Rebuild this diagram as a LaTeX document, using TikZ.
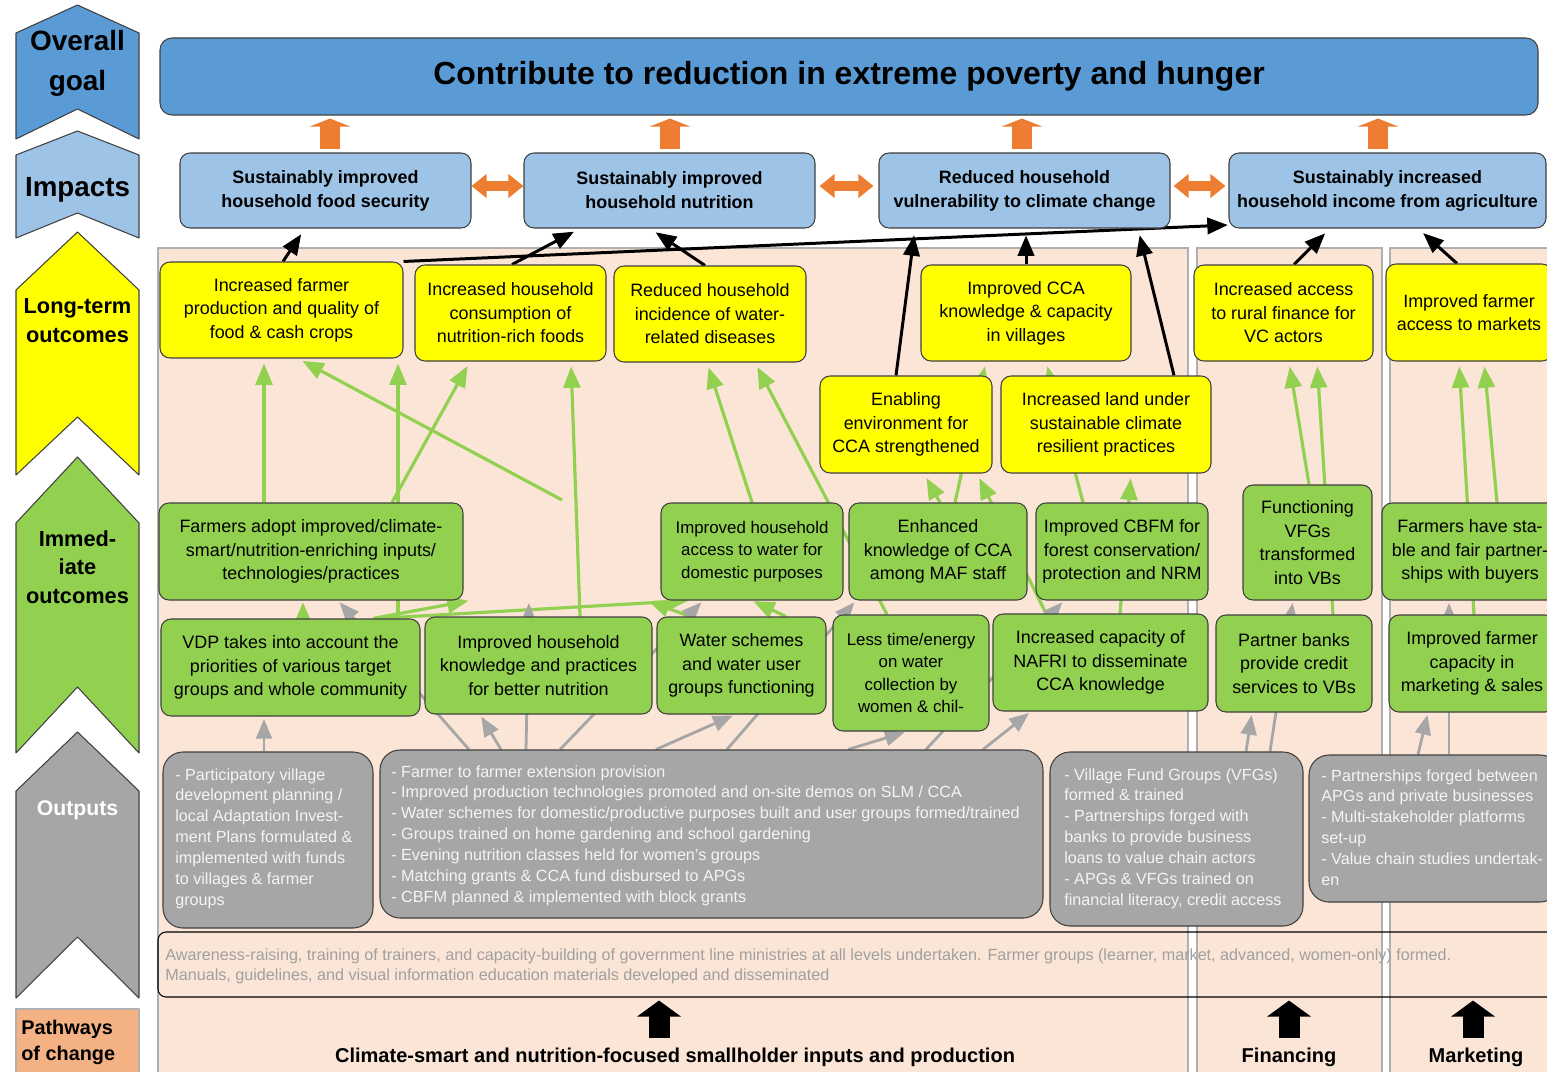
\documentclass[tikz,border=0pt]{standalone}
\usepackage{fontspec}
\setmainfont{Liberation Sans}
\usetikzlibrary{arrows,arrows.meta}

\definecolor{goalblue}{HTML}{5B9BD5}
\definecolor{impblue}{HTML}{9DC3E6}
\definecolor{ltyellow}{HTML}{FFFF00}
\definecolor{imgreen}{HTML}{92D050}
\definecolor{outgray}{HTML}{A6A6A6}
\definecolor{outtext}{HTML}{F4F4F4}
\definecolor{awaretext}{HTML}{A0A0A0}
\definecolor{peach}{HTML}{FBE5D6}
\definecolor{regionedge}{HTML}{B0B0B0}
\definecolor{arrorange}{HTML}{ED7D31}
\definecolor{pathorange}{HTML}{F4B183}
\definecolor{boxedge}{HTML}{404040}

\pgfdeclarelayer{backdrop}
\pgfdeclarelayer{links}
\pgfsetlayers{backdrop,links,main}

\tikzset{
  wh/.style 2 args={minimum width=#1*0.02cm, minimum height=#2*0.02cm},
  box/.style={draw=boxedge, line width=0.6pt, inner sep=0pt, align=center},
  goalbox/.style={box, fill=goalblue, rounded corners=0.24cm,
    font=\fontsize{18.2}{22}\selectfont\bfseries},
  impbox/.style={box, fill=impblue, rounded corners=0.2cm,
    font=\fontsize{10.2}{13.6}\selectfont\bfseries},
  ltbox/.style={box, fill=ltyellow, rounded corners=0.2cm,
    font=\fontsize{10.2}{13.4}\selectfont},
  imbox/.style={box, fill=imgreen, rounded corners=0.2cm,
    font=\fontsize{10.2}{13.4}\selectfont},
  smallim/.style={imbox, font=\fontsize{9.6}{12.6}\selectfont},
  outbox/.style={box, fill=outgray, rounded corners=0.4cm},
  outtxt/.style={anchor=north west, inner sep=0pt, align=left,
    text=outtext, font=\fontsize{9.2}{11.9}\selectfont},
  awarebox/.style={draw=black, line width=0.6pt, rounded corners=0.16cm},
  awaretxt/.style={anchor=north west, inner sep=0pt, align=left,
    text=awaretext, font=\fontsize{9.2}{11.9}\selectfont},
  region/.style={fill=peach, draw=regionedge, line width=0.6pt},
  chev/.style={draw=boxedge, line width=0.6pt},
  lvl/.style={align=center, inner sep=0pt},
  botlbl/.style={inner sep=0pt, font=\fontsize{11.4}{13}\selectfont\bfseries},
  toimp/.style={->, line width=1.7pt, black, shorten >=4pt},
  tolt/.style={->, line width=1.8pt, imgreen, shorten >=3pt},
  fromout/.style={->, line width=1.6pt, outgray, shorten >=1.5pt},
  uparr/.style={arrorange, line cap=butt, line width=0.4cm,
    -{Triangle[width=0.8cm,length=0.16cm]},
    shorten <=0.06cm, shorten >=0.06cm},
  sidearr/.style={arrorange, line cap=butt, line width=0.2cm,
    {Triangle[width=0.46cm,length=0.3cm]}-{Triangle[width=0.46cm,length=0.3cm]}},
  botarr/.style={black, line cap=butt, line width=0.42cm,
    -{Triangle[width=0.86cm,length=0.32cm]}}
}

\begin{document}
\begin{tikzpicture}[line cap=round,line join=round,>=triangle 45,x=0.02cm,y=-0.02cm]
\useasboundingbox (0,0) rectangle (1547,1071);

% pathway columns
\begin{pgfonlayer}{backdrop}
\draw[region] (158,248) rectangle (1188,1090);
\draw[region] (1197,248) rectangle (1382,1090);
\draw[region] (1390,248) rectangle (1570,1090);
\end{pgfonlayer}

% level chevrons on the left
\draw[chev, fill=goalblue] (16,33) -- (77.5,5) -- (139,33) -- (139,139) -- (77.5,109) -- (16,139) -- cycle;
\draw[chev, fill=impblue] (16,155) -- (77.5,131) -- (139,155) -- (139,238) -- (77.5,213) -- (16,238) -- cycle;
\draw[chev, fill=ltyellow] (16,290) -- (77.5,232) -- (139,290) -- (139,475) -- (77.5,417) -- (16,475) -- cycle;
\draw[chev, fill=imgreen] (16,523) -- (77.5,457) -- (139,523) -- (139,753) -- (77.5,687) -- (16,753) -- cycle;
\draw[chev, fill=outgray] (16,791) -- (77.5,732) -- (139,791) -- (139,998) -- (77.5,937) -- (16,998) -- cycle;
\draw[chev, fill=pathorange, draw=regionedge] (16,1009) rectangle (139,1090);

\node[lvl, font=\fontsize{15.9}{22.7}\selectfont\bfseries] (lvgoal) at (77.5,63) {Overall\\goal};
\node[lvl, font=\fontsize{15.8}{20}\selectfont\bfseries] (lvimp) at (77.5,190) {Impacts};
\node[lvl, font=\fontsize{12.4}{16.4}\selectfont\bfseries] (lvlong) at (77.5,321) {Long-term\\outcomes};
\node[lvl, font=\fontsize{12.4}{16.2}\selectfont\bfseries] (lvimm) at (77.5,567) {Immed-\\iate\\outcomes};
\node[lvl, font=\fontsize{12.1}{16}\selectfont\bfseries, text=white] (lvout) at (77.5,810) {Outputs};
\node[lvl, anchor=north west, align=left, font=\fontsize{11.3}{14.7}\selectfont\bfseries] (lvpath) at (21,1020) {Pathways\\of change};

% goal and impacts
\node[goalbox, wh={1378}{77}] (Goal) at (849,76.5) {Contribute to reduction in extreme poverty and hunger};
\node[impbox, wh={291}{75}] (I1) at (325.5,190.5) {Sustainably improved\\household food security};
\node[impbox, wh={291}{75}] (I2) at (669.5,190.5) {Sustainably improved\\household nutrition};
\node[impbox, wh={291}{75}] (I3) at (1024.5,190.5) {Reduced household\\vulnerability to climate change};
\node[impbox, wh={317}{75}] (I4) at (1387.5,190.5) {Sustainably increased\\household income from agriculture};

% long-term outcomes
\node[ltbox, wh={243}{96}] (L1) at (281.5,310) {Increased farmer\\production and quality of\\food \& cash crops};
\node[ltbox, wh={191}{96}] (L2) at (510.5,313) {Increased household\\consumption of\\nutrition-rich foods};
\node[ltbox, wh={192}{96}] (L3) at (710,314) {Reduced household\\incidence of water-\\related diseases};
\node[ltbox, wh={210}{96}] (L4) at (1026,313) {Improved CCA\\knowledge \& capacity\\in villages};
\node[ltbox, wh={172}{97}] (L5) at (906,424.5) {Enabling\\environment for\\CCA strengthened};
\node[ltbox, wh={210}{97}] (L6) at (1106,424.5) {Increased land under\\sustainable climate\\resilient practices};
\node[ltbox, wh={179}{96}] (L7) at (1283.5,313) {Increased access\\to rural finance for\\VC actors};
\node[ltbox, wh={166}{97}] (L8) at (1469,312.5) {Improved farmer\\access to markets};

% immediate outcomes
\node[imbox, wh={304}{97}] (G1) at (311,551.5) {Farmers adopt improved/climate-\\smart/nutrition-enriching inputs/\\technologies/practices};
\node[smallim, wh={182}{97}] (G2) at (752,551.5) {Improved household\\access to water for\\domestic purposes};
\node[imbox, wh={178}{97}] (G3) at (938,551.5) {Enhanced\\knowledge of CCA\\among MAF staff};
\node[imbox, wh={172}{97}] (G4) at (1122,551.5) {Improved CBFM for\\forest conservation/\\protection and NRM};
\node[imbox, wh={129}{115}] (G5) at (1307.5,542.5) {Functioning\\VFGs\\transformed\\into VBs};
\node[imbox, wh={176}{97}] (G6) at (1470,551.5) {Farmers have sta-\\ble and fair partner-\\ships with buyers};
\node[imbox, wh={259}{97}] (G7) at (290.5,667.5) {VDP takes into account the\\priorities of various target\\groups and whole community};
\node[imbox, wh={227}{97}] (G8) at (538.5,665.5) {Improved household\\knowledge and practices\\for better nutrition};
\node[imbox, wh={169}{97}] (G9) at (741.5,665.5) {Water schemes\\and water user\\groups functioning};
\node[smallim, wh={156}{116}] (G10) at (911,673) {Less time/energy\\on water\\collection by\\women \& chil-};
\node[imbox, wh={215}{97}] (G11) at (1100.5,662.5) {Increased capacity of\\NAFRI to disseminate\\CCA knowledge};
\node[imbox, wh={156}{97}] (G12) at (1294,663.5) {Partner banks\\provide credit\\services to VBs};
\node[imbox, wh={166}{97}] (G13) at (1472,663.5) {Improved farmer\\capacity in\\marketing \& sales};

% outputs
\node[outbox, wh={210}{176}] (O1) at (268,840) {};
\node[outbox, wh={663}{168}] (O2) at (711.5,834) {};
\node[outbox, wh={253}{174}] (O3) at (1176.5,839) {};
\node[outbox, wh={251}{147}] (O4) at (1434.5,828.5) {};
\node[outtxt] (O1t) at (175,768) {- Participatory village\\development planning /\\local Adaptation Invest-\\ment Plans formulated \&\\implemented with funds\\to villages \& farmer\\groups};
\node[outtxt] (O2t) at (391,765) {- Farmer to farmer extension provision\\- Improved production technologies promoted and on-site demos on SLM / CCA\\- Water schemes for domestic/productive purposes built and user groups formed/trained\\- Groups trained on home gardening and school gardening\\- Evening nutrition classes held for women’s groups\\- Matching grants \& CCA fund disbursed to APGs\\- CBFM planned \& implemented with block grants};
\node[outtxt] (O3t) at (1064,768) {- Village Fund Groups (VFGs)\\formed \& trained\\- Partnerships forged with\\banks to provide business\\loans to value chain actors\\- APGs \& VFGs trained on\\financial literacy, credit access};
\node[outtxt] (O4t) at (1321,769) {- Partnerships forged between\\APGs and private businesses\\- Multi-stakeholder platforms\\set-up\\- Value chain studies undertak-\\en};

% cross-cutting activities
\node[awarebox, wh={1412}{65}] (Aware) at (864,964.5) {};
\node[awaretxt] (AwareTxt) at (165,948) {Awareness-raising, training of trainers, and capacity-building of government line ministries at all levels undertaken. Farmer groups (learner, market, advanced, women-only) formed.\\Manuals, guidelines, and visual information education materials developed and disseminated};

% pathways
\node[botlbl] (Pprod) at (675,1057) {Climate-smart and nutrition-focused smallholder inputs and production};
\node[botlbl] (Pfin) at (1289,1057) {Financing};
\node[botlbl] (Pmkt) at (1476,1057) {Marketing};

\begin{pgfonlayer}{links}
% impacts -> goal
\foreach \i/\x in {I1/330,I2/670,I3/1022,I4/1378}
  \draw[uparr] (\i.north -| \x,0) -- (Goal.south -| \x,0);
\draw[sidearr] (I1.east |- 0,186) -- (I2.west |- 0,186);
\draw[sidearr, shorten <=0.08cm, shorten >=0.1cm] (I2.east |- 0,186) -- (I3.west |- 0,186);
\draw[sidearr, shorten <=0.06cm, shorten >=0.06cm] (I3.east |- 0,186) -- (I4.west |- 0,186);

% long-term outcomes -> impacts
\draw[toimp] (L1.north -| 283,0) -- (I1.south -| 305,0);
\draw[toimp, shorten >=0.5pt] (L1.north east) -- (I4.west |- 0,225);
\draw[toimp] (L2.north -| 512,0) -- (I2.south -| 580,0);
\draw[toimp] (L3.north -| 705,0) -- (I2.south -| 650,0);
\draw[toimp] (L5.north -| 896,0) -- (I3.south -| 915,0);
\draw[toimp] (L4.north) -- (I3.south -| 1026,0);
\draw[toimp] (L6.north -| 1174,0) -- (I3.south -| 1138,0);
\draw[toimp] (L7.north -| 1294,0) -- (I4.south -| 1330,0);
\draw[toimp] (L8.north -| 1457,0) -- (I4.south -| 1418,0);

% immediate -> long-term outcomes
\coordinate (gfree) at (562,500);
\draw[tolt] (G1.north -| 264,0) -- (L1.south -| 264,0);
\draw[tolt] (gfree) -- (L1.south -| 298,0);
\draw[tolt] (G7.north -| 398,0) -- (L1.south -| 398,0);
\draw[tolt] (G1.north -| 392,0) -- (L2.south -| 470,0);
\draw[tolt] (G8.north -| 580,0) -- (L2.south -| 571,0);
\draw[tolt] (G2.north) -- (L3.south -| 707,0);
\draw[tolt] (G10.north -| 887,0) -- (L3.south -| 755,0);
\draw[tolt] (G3.north -| 940,0) -- (L5.south -| 924,0);
\draw[tolt] (G3.north -| 955,0) -- (L4.south -| 986,0);
\draw[tolt] (G11.north -| 1046,0) -- (L5.south -| 977,0);
\draw[tolt] (G4.north -| 1083,0) -- (L4.south -| 1046,0);
\draw[tolt] (G11.north -| 1120,0) -- (L6.south -| 1131,0);
\draw[tolt] (G5.north -| 1309,0) -- (L7.south -| 1289,0);
\draw[tolt] (G12.north -| 1333,0) -- (L7.south -| 1317,0);
\draw[tolt] (G6.north -| 1497,0) -- (L8.south -| 1484,0);
\draw[tolt] (G13.north -| 1474,0) -- (L8.south -| 1459,0);

% between the two rows of immediate outcomes
\draw[tolt, shorten >=1pt] (G7.north -| 303,0) -- (G1.south -| 303,0);
\draw[tolt, shorten >=1pt] (G7.north -| 373,0) -- (G1.south -| 470,0);
\draw[tolt, shorten >=1pt] (G7.north -| 376,0) -- (G2.south -| 690,0);
\draw[tolt, shorten >=1pt] (G9.north -| 690,0) -- (G2.south -| 647,0);
\draw[tolt, shorten >=1pt] (G9.north -| 786,0) -- (G2.south -| 752,0);

% outputs -> immediate outcomes
\draw[fromout] (O1.north -| 264,0) -- (G7.south -| 264,0);
\draw[fromout] (O2.north -| 469,0) -- (G1.south -| 338,0);
\draw[fromout] (O2.north -| 501,0) -- (G8.south -| 480,0);
\draw[fromout] (O2.north -| 526,0) -- (G1.south -| 529,0);
\draw[fromout] (O2.north -| 560,0) -- (G2.south -| 703,0);
\draw[fromout] (O2.north -| 656,0) -- (G9.south -| 735,0);
\draw[fromout] (O2.north -| 727,0) -- (G3.south -| 856,0);
\draw[fromout] (O2.north -| 848,0) -- (G10.south -| 907,0);
\draw[fromout] (O2.north -| 926,0) -- (G4.south -| 1064,0);
\draw[fromout] (O2.north -| 983,0) -- (G11.south -| 1031,0);
\draw[fromout] (O3.north -| 1246,0) -- (G12.south -| 1252,0);
\draw[fromout] (O3.north -| 1270,0) -- (G5.south -| 1293,0);
\draw[fromout] (O4.north -| 1418,0) -- (G13.south -| 1428,0);
\draw[fromout] (O4.north -| 1449,0) -- (G6.south -| 1449,0);

% pathway arrows
\draw[botarr, shorten <=0.18cm, shorten >=0.06cm] (Pprod.north -| 659,0) -- (Aware.south -| 659,0);
\draw[botarr, shorten <=0.18cm, shorten >=0.06cm] (Pfin.north -| 1289,0) -- (Aware.south -| 1289,0);
\draw[botarr, shorten <=0.18cm, shorten >=0.06cm] (Pmkt.north -| 1473,0) -- (Aware.south -| 1473,0);
\end{pgfonlayer}
\end{tikzpicture}
\end{document}
